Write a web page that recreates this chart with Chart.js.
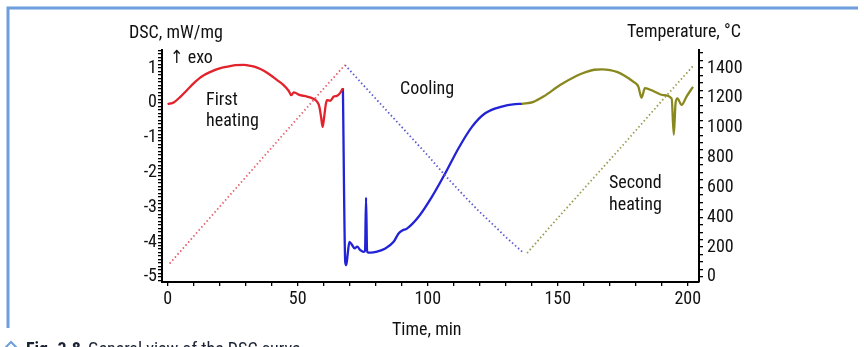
<!DOCTYPE html>
<html>
<head>
<meta charset="utf-8">
<script src="https://cdn.jsdelivr.net/npm/chart.js@4"></script>
<style>
  html, body { margin: 0; padding: 0; background: #fff; }
</style>
</head>
<body>
<canvas id="graficoDsc" width="864" height="347"></canvas>
<script>
// DSC signal, mW/mg (time in min)
const tempoAquec1 = [0, 2.5, 5, 7.5, 10, 13, 16.5, 20, 23, 26, 29.3, 32, 34.4, 37, 39.5, 42, 44.6, 46.6, 47.5, 48.5, 51, 53.6, 56.2, 57.5, 58.3, 59, 59.6, 60.2, 60.8, 61.3, 62.5, 63.9, 65.1, 66.3, 67.4];
const dscAquec1 = [-0.04, 0.02, 0.18, 0.37, 0.56, 0.75, 0.89, 0.99, 1.04, 1.08, 1.09, 1.06, 1.01, 0.92, 0.8, 0.66, 0.51, 0.34, 0.22, 0.3, 0.22, 0.18, 0.11, 0.03, -0.1, -0.4, -0.69, -0.4, -0.05, 0.08, 0.06, 0.18, 0.2, 0.28, 0.42];

const tempoResfr = [67.4, 68.3, 68.7, 69.3, 69.9, 71, 71.9, 72.9, 74.1, 75.4, 75.9, 76.3, 76.7, 78, 80.5, 83.7, 86.9, 88.8, 90.1, 92, 96.5, 101.6, 106.7, 111.8, 117, 122.1, 128.5, 133.6, 136.2];
const dscResfr = [0.42, -4.57, -4.66, -4.3, -3.99, -4.09, -4.18, -4.13, -4.23, -4.28, -4.25, -2.72, -4.28, -4.3, -4.27, -4.18, -3.99, -3.75, -3.67, -3.61, -3.27, -2.7, -2.03, -1.31, -0.69, -0.3, -0.11, -0.04, -0.03];

const tempoAquec2 = [136.2, 140.7, 144.5, 150.9, 157.3, 161, 164, 167, 170.1, 173, 175.2, 179, 181, 182.2, 183.5, 186.7, 190.5, 193.8, 194.6, 195.3, 196, 197.6, 199.5, 202];
const dscAquec2 = [-0.03, 0.03, 0.18, 0.51, 0.78, 0.89, 0.95, 0.96, 0.94, 0.88, 0.8, 0.61, 0.46, 0.15, 0.42, 0.34, 0.22, 0.12, -0.91, 0.0, 0.13, -0.06, 0.18, 0.46];

// furnace temperature, °C
const tempoT1 = [0.8, 20, 40, 60, 68.2];
const temperaturaT1 = [90, 470, 866, 1262, 1420];
const tempoT2 = [68.2, 80, 90, 100, 106.7, 115, 120, 125.9, 130, 134, 136.3];
const temperaturaT2 = [1420, 1195, 1005, 815, 680, 525, 435, 338, 268, 205, 170];
const tempoT3 = [138.2, 150, 175.2, 190, 202.5];
const temperaturaT3 = [160, 395, 886, 1180, 1423];

const FONTE = '"Liberation Sans Narrow", "Roboto Condensed", "DejaVu Sans Condensed", "Open Sans", sans-serif';
const TEXTO = "#111";

function pontos(xs, ys) {
  return xs.map((x, i) => ({ x: x, y: ys[i] }));
}

function serieDsc(dados, cor) {
  return {
    data: dados,
    yAxisID: "yDsc",
    borderColor: cor,
    borderWidth: 2.3,
    pointRadius: 0,
    cubicInterpolationMode: "monotone",
    showLine: true,
  };
}

function serieTemp(dados, cor) {
  return {
    data: dados,
    yAxisID: "yTemp",
    borderColor: cor,
    borderWidth: 1.8,
    borderDash: [1.5, 2.5],
    pointRadius: 0,
    showLine: true,
  };
}

const textos = {
  id: "textos",
  beforeDraw(chart) {
    const ctx = chart.ctx;
    ctx.save();
    ctx.fillStyle = "#fff";
    ctx.fillRect(0, 0, chart.width, chart.height);
    ctx.strokeStyle = "#6d9ddb";
    ctx.lineWidth = 3;
    ctx.beginPath();
    ctx.moveTo(8, 328);
    ctx.lineTo(8, 8);
    ctx.lineTo(858, 8);
    ctx.stroke();
    ctx.restore();
  },
  afterDraw(chart) {
    const ctx = chart.ctx;
    ctx.save();
    ctx.fillStyle = TEXTO;
    ctx.textBaseline = "middle";
    ctx.textAlign = "left";
    ctx.font = "18px " + FONTE;
    ctx.fillText("DSC, mW/mg", 129, 33);
    ctx.fillText("↑ exo", 170, 58);
    ctx.fillText("Temperature, °C", 627, 32);
    ctx.fillText("First", 206, 100);
    ctx.fillText("heating", 206, 121);
    ctx.fillText("Cooling", 400, 89);
    ctx.fillText("Second", 609, 183);
    ctx.fillText("heating", 609, 205);
    ctx.fillText("Time, min", 392, 330);

    // caption, cut by the bottom edge
    ctx.textBaseline = "alphabetic";
    ctx.font = "bold 18px " + FONTE;
    ctx.fillStyle = "#1a2233";
    ctx.fillText("Fig. 3.8", 26, 355);
    ctx.font = "18px " + FONTE;
    ctx.fillText("General view of the DSC curve", 88, 355);
    ctx.strokeStyle = "#6d9ddb";
    ctx.lineWidth = 2;
    ctx.beginPath();
    ctx.moveTo(5, 348);
    ctx.lineTo(11, 342);
    ctx.lineTo(17, 348);
    ctx.stroke();
    ctx.restore();
  },
};

const eixo = {
  border: { display: true, color: "#000", width: 2 },
  grid: { drawOnChartArea: false, color: "#000", tickLength: 4, lineWidth: 1.3 },
};

const grafico = new Chart(document.getElementById("graficoDsc"), {
  type: "scatter",
  data: {
    datasets: [
      serieTemp(pontos(tempoT1, temperaturaT1), "#e5606c"),
      serieTemp(pontos(tempoT2, temperaturaT2), "#5b5bd2"),
      serieTemp(pontos(tempoT3, temperaturaT3), "#9c9c52"),
      serieDsc(pontos(tempoAquec1, dscAquec1), "#e3232c"),
      serieDsc(pontos(tempoResfr, dscResfr), "#2222d6"),
      serieDsc(pontos(tempoAquec2, dscAquec2), "#88881f"),
    ],
  },
  options: {
    responsive: false,
    animation: false,
    layout: { padding: { top: 50, left: 0, right: 0, bottom: 0 } },
    plugins: { legend: { display: false }, tooltip: { enabled: false } },
    scales: {
      x: {
        type: "linear",
        min: -2.15,
        max: 204.3,
        ...eixo,
        ticks: {
          stepSize: 10,
          autoSkip: false,
          includeBounds: false,
          maxRotation: 0,
          padding: 3,
          color: TEXTO,
          font: { family: FONTE, size: 18 },
          callback: (v) => (Math.abs(v % 50) < 1e-6 ? v : ""),
        },
        afterFit: (s) => { s.height = 65; },
      },
      yDsc: {
        type: "linear",
        position: "left",
        min: -5.144,
        max: 1.517,
        ...eixo,
        ticks: {
          stepSize: 0.1,
          autoSkip: false,
          includeBounds: false,
          padding: 1,
          color: TEXTO,
          font: { family: FONTE, size: 18 },
          callback: (v) => (Math.abs(v - Math.round(v)) < 1e-6 && v <= 1.0001 ? String(Math.round(v)) : ""),
        },
        afterFit: (s) => { s.width = 162; },
      },
      yTemp: {
        type: "linear",
        position: "right",
        min: -33.6,
        max: 1520.6,
        ...eixo,
        ticks: {
          stepSize: 50,
          autoSkip: false,
          includeBounds: false,
          padding: 4,
          color: TEXTO,
          font: { family: FONTE, size: 18 },
          callback: (v) => (v % 200 === 0 && v >= 0 && v <= 1400 ? v : ""),
        },
        afterFit: (s) => { s.width = 165; },
      },
    },
  },
  plugins: [textos],
});
</script>
</body>
</html>
